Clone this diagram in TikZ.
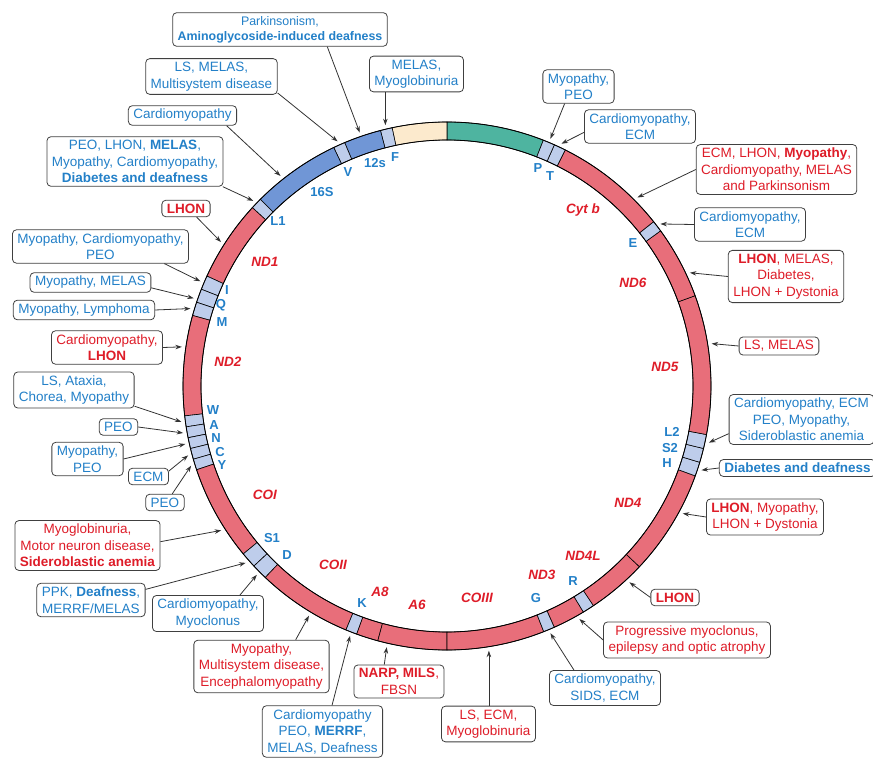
\documentclass[tikz,border=0pt]{standalone}
\usepackage{fontspec}
\setmainfont{Liberation Sans}
\usetikzlibrary{arrows.meta}
\definecolor{mblue}{RGB}{35,128,200}
\definecolor{mred}{RGB}{222,28,40}
\definecolor{gred}{RGB}{232,110,122}
\definecolor{rrna}{RGB}{112,150,214}
\definecolor{band}{RGB}{190,205,235}
\definecolor{beige}{RGB}{252,234,205}
\definecolor{dteal}{RGB}{78,180,160}
\begin{document}
\begin{tikzpicture}[x=1pt,y=1pt,
	box/.style={draw=black!75,line width=0.8pt,rounded corners=4pt,fill=white,align=center,inner xsep=5pt,inner ysep=3.5pt,font=\fontsize{13.5}{16.5}\selectfont},
	bl/.style={box,text=mblue},
	rd/.style={box,text=mred},
	gene/.style={text=mred,font=\fontsize{13.5}{15}\selectfont\bfseries\itshape},
	trna/.style={text=mblue,font=\fontsize{13}{15}\selectfont\bfseries},
	ptr/.style={->,>={Stealth[length=6.5pt,width=4.5pt]},draw=black!80,line width=0.8pt}]
		\useasboundingbox (-447,-372) rectangle (426,386);
		
		\foreach \a/\b/\c in {68.6/90/dteal, 90/102/beige, 102/104.6/band, 104.6/112.8/rrna, 112.8/115.4/band, 115.4/135/rrna, 135/137.5/band,
			137.5/155.4/gred, 155.4/158.5/band, 158.5/161.5/band, 161.5/164.5/band, 164.5/186.5/gred,
			186.5/188.9/band, 188.9/191.3/band, 191.3/193.7/band, 193.7/196.1/band, 196.1/198.5/band,
			198.5/219.5/gred, 219.5/223/band, 223/226.5/band, 226.5/247.5/gred, 247.5/250/band, 250/254.8/gred, 254.8/270/gred,
			270/291.5/gred, 291.5/294/band, 294/301.1/gred, 301.1/303.7/band, 303.7/316.8/gred, 316.8/340.1/gred,
			-19.9/-16.8/band, -16.8/-13.7/band, -13.7/-10.6/band, -10.6/20/gred, 20/36/gred, 36/38.5/band, 38.5/63.4/gred,
			63.4/66/band, 66/68.6/band}
			\draw [fill=\c, line width=0.6pt] (\a:264) arc (\a:\b:264) -- (\b:246) arc (\b:\a:246) -- cycle;
		\draw [line width=0.8pt] (0,0) circle (264);
		\draw [line width=0.8pt] (0,0) circle (246);
		
		\foreach \n/\x/\y/\t in {cytb/136/176/Cyt b, nd6/186/103/ND6, nd5/218/19/ND5, nd4/181/-117/ND4, nd4l/136/-170/ND4L,
			nd3/95/-189/ND3, co3/30/-212/COIII, a6/-30/-219/A6, a8/-67/-206/A8, co2/-114/-179/COII, co1/-182/-109/COI,
			nd2/-219/24/ND2, nd1/-182/124/ND1}
			\node [gene] (l\n) at (\x,\y) {\t};
		\foreach \n/\x/\y/\t in {s16/-125/194/16S, v/-99/214/V, s12/-72/223/12s, f/-52/229/F, l1/-169/165/L1, p/91/218/P, t/103/210/T,
			e/186/143/E, l2/225/-46/L2, s2/223/-62/S2, h/220/-77/H, r/126/-195/R, g/89/-212/G, k/-85/-217/K,
			d/-160/-169/D, s1/-175/-152/S1, w/-234/-24/W, a/-233/-39/A, n/-231/-52/N, c/-227/-66/C, y/-225/-79/Y,
			m/-225/64/M, q/-226/81/Q, i/-220/96/I}
			\node [trna] (l\n) at (\x,\y) {\t};
		
		\foreach \n/\a in {12S/109, V/114.1, F/103.3, 16S/128.4, L1/136.3, ND1/147.5, I/157, Q/160.9, M/163.2, ND2/171.6,
			W/187.7, A/190.1, N/192.5, C/195, Y/197.3, COI/212.6, S1/221.3, D/224.8, COII/239, K/248.8, A6/257,
			COIII/279, G/292.7, ND3/299.6, ND4L/312.9, ND4/331.6, H/341.7, L2/347.8, ND5/9.1, ND6/25, E/37.2,
			Cytb/44.7, T/64.7, P/67.3}
			\coordinate (t\n) at (\a:268);
		
		\node [bl, font=\fontsize{12.4}{15}\selectfont] (b1) at (-167,356.5) {Parkinsonism,\\ \textbf{Aminoglycoside-induced deafness}};
		\node [bl] (b2) at (-235.5,309.5) {LS, MELAS,\\ Multisystem disease};
		\node [bl] (b3) at (-30.5,312) {MELAS,\\ Myoglobinuria};
		\node [bl] (b4) at (-264.5,270.5) {Cardiomyopathy};
		\node [bl] (b5) at (-312,224.5) {PEO, LHON, \textbf{MELAS},\\ Myopathy, Cardiomyopathy,\\ \textbf{Diabetes and deafness}};
		\node [rd] (b6) at (-261,177.5) {\textbf{LHON}};
		\node [bl] (b7) at (-346.5,139.5) {Myopathy, Cardiomyopathy,\\ PEO};
		\node [bl] (b8) at (-356.5,103.5) {Myopathy, MELAS};
		\node [bl] (b9) at (-363,76) {Myopathy, Lymphoma};
		\node [rd] (b10) at (-340,38.5) {Cardiomyopathy,\\ \textbf{LHON}};
		\node [bl] (b11) at (-373,-4) {LS, Ataxia,\\ Chorea, Myopathy};
		\node [bl] (b12) at (-328.5,-41) {PEO};
		\node [bl] (b13) at (-359.5,-73) {Myopathy,\\ PEO};
		\node [bl] (b14) at (-298.5,-90.5) {ECM};
		\node [bl] (b15) at (-282,-116.5) {PEO};
		\node [rd] (b16) at (-359.5,-159.5) {Myoglobinuria,\\ Motor neuron disease,\\ \textbf{Sideroblastic anemia}};
		\node [bl] (b17) at (-356,-214) {PPK, \textbf{Deafness},\\ MERRF/MELAS};
		\node [bl] (b18) at (-239,-227.5) {Cardiomyopathy,\\ Myoclonus};
		\node [rd] (b19) at (-185.5,-280.5) {Myopathy,\\ Multisystem disease,\\ Encephalomyopathy};
		\node [bl] (b20) at (-124.5,-345.5) {Cardiomyopathy\\ PEO, \textbf{MERRF},\\ MELAS, Deafness};
		\node [rd] (b21) at (-48,-295.5) {\textbf{NARP, MILS},\\ FBSN};
		\node [rd] (b22) at (41.5,-338) {LS, ECM,\\ Myoglobinuria};
		\node [bl] (b23) at (158,-302) {Cardiomyopathy,\\ SIDS, ECM};
		\node [rd] (b24) at (240,-254) {Progressive myoclonus,\\ epilepsy and optic atrophy};
		\node [rd] (b25) at (228,-211.5) {\textbf{LHON}};
		\node [rd] (b26) at (318,-131) {\textbf{LHON}, Myopathy,\\ LHON + Dystonia};
		\node [bl] (b27) at (350.5,-82) {\textbf{Diabetes and deafness}};
		\node [bl] (b28) at (354.5,-33.5) {Cardiomyopathy, ECM\\ PEO, Myopathy,\\ Sideroblastic anemia};
		\node [rd] (b29) at (332,40) {LS, MELAS};
		\node [rd] (b30) at (339,109.5) {\textbf{LHON}, MELAS,\\ Diabetes,\\ LHON + Dystonia};
		\node [bl] (b31) at (303,161.5) {Cardiomyopathy,\\ ECM};
		\node [rd] (b32) at (329.5,216.5) {ECM, LHON, \textbf{Myopathy},\\ Cardiomyopathy, MELAS\\ and Parkinsonism};
		\node [bl] (b33) at (193,259.5) {Cardiomyopathy,\\ ECM};
		\node [bl] (b34) at (131.5,299.5) {Myopathy,\\ PEO};
		
		\draw [ptr] (b1.-20) -- (t12S);
		\draw [ptr] (b2.-14) -- (tV);
		\draw [ptr] (b3.south -| tF) -- (tF);
		\draw [ptr] (b4.-13) -- (t16S);
		\draw [ptr] (b5.-16) -- (tL1);
		\draw [ptr] (b6.-39) -- (tND1);
		\draw [ptr] (b7.-15) -- (tI);
		\draw [ptr] (b8.-5) -- (tQ);
		\draw [ptr] (b9.east) -- (tM);
		\draw [ptr] (b10.east) -- (tND2);
		\draw [ptr] (b11.-15) -- (tW);
		\draw [ptr] (b12.east) -- (tA);
		\draw [ptr] (b13.east) -- (tN);
		\draw [ptr] (b14.15) -- (tC);
		\draw [ptr] (b15.50) -- (tY);
		\draw [ptr] (b16.3) -- (tCOI);
		\draw [ptr] (b17.11) -- (tS1);
		\draw [ptr] (b18.30) -- (tD);
		\draw [ptr] (b19.38) -- (tCOII);
		\draw [ptr] (b20.70) -- (tK);
		\draw [ptr] (b21.131) -- (tA6);
		\draw [ptr] (b22.north -| tCOIII) -- (tCOIII);
		\draw [ptr] (b23.150) -- (tG);
		\draw [ptr] (b24.west) -- (tND3);
		\draw [ptr] (b25.west) -- (tND4L);
		\draw [ptr] (b26.west) -- (tND4);
		\draw [ptr] (b27.west) -- (tH);
		\draw [ptr] (b28.191) -- (tL2);
		\draw [ptr] (b29.west) -- (tND5);
		\draw [ptr] (b30.west) -- (tND6);
		\draw [ptr] (b31.west) -- (tE);
		\draw [ptr] (b32.west) -- (tCytb);
		\draw [ptr] (b33.186) -- (tT);
		\draw [ptr] (b34.-129) -- (tP);
\end{tikzpicture}
\end{document}
